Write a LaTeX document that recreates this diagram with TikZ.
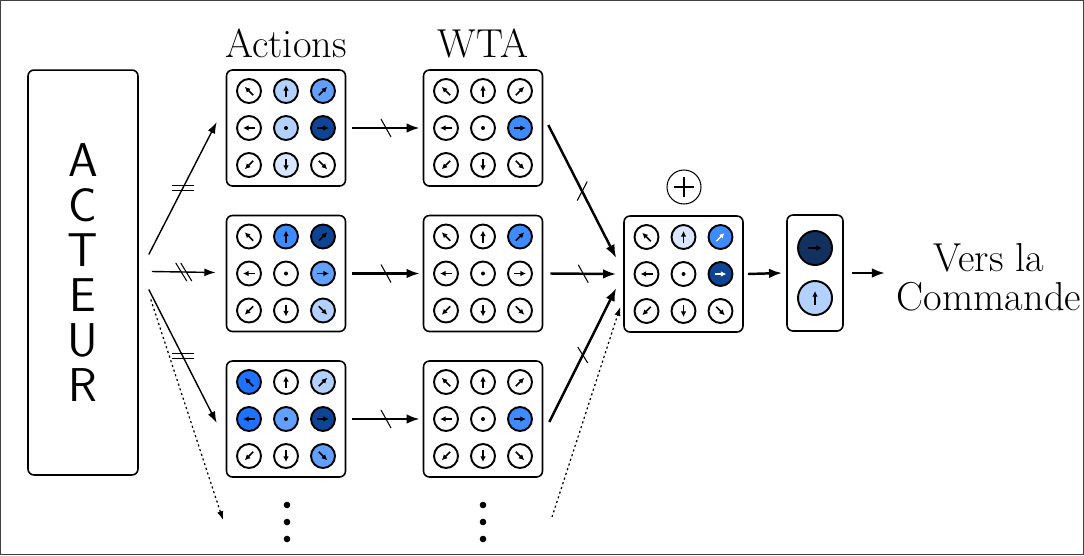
\documentclass[tikz,border=0pt]{standalone}
\usepackage{fontspec}
\usepackage{tikz}
\usetikzlibrary{arrows.meta}
\definecolor{bxl}{HTML}{D8E6FF}
\definecolor{bl}{HTML}{B3D1FF}
\definecolor{bm}{HTML}{62A0FF}
\definecolor{bb}{HTML}{3D8BFF}
\definecolor{bv}{HTML}{1E72FF}
\definecolor{bd}{HTML}{0E4494}
\definecolor{bn}{HTML}{12315F}

\begin{document}
\begin{tikzpicture}[x=0.02cm,y=-0.02cm,
  box/.style={draw,rounded corners=3.4pt,line width=0.9pt},
  grid/.style={box,minimum width=2.38cm,minimum height=2.32cm},
  cell/.style={draw,line width=1.1pt},
  dir/.style={line width=0.9pt,-{Latex[length=3.2pt,width=3.2pt]}},
  fleche/.style={line width=0.8pt,-{Latex[length=6.5pt,width=4.5pt]}},
  grosse/.style={line width=1.4pt,-{Latex[length=7.5pt,width=5.5pt]}},
  pointille/.style={line width=0.7pt,dash pattern=on 1.2pt off 1.6pt,-{Latex[length=5pt,width=3.5pt]}},
  barre/.style={line width=0.6pt},
  titre/.style={font=\fontsize{23}{22}\selectfont,anchor=base}]
  \useasboundingbox (0,0) rectangle (1084,555);
  \draw[black!75,line width=0.6pt] (0.5,0.5) rectangle (1083.5,554.5);
  % acteur
  \node[box,minimum width=2.2cm,minimum height=8.1cm,align=center,font=\sffamily\fontsize{27}{25.6}\selectfont] (acteur) at (83,272.5) {A\\C\\T\\E\\U\\R};
  % grilles
  \foreach \gname/\gx/\gy/\gfill in {act1/286/128/{white,bl,bm,white,bl,bd,white,bxl,white},
    act2/286/273.5/{white,bb,bd,white,white,bm,white,white,bl},
    act3/286/419/{bv,white,bl,bv,bm,bd,white,white,bm},
    wta1/483/128/{white,white,white,white,white,bb,white,white,white},
    wta2/483/273.5/{white,white,bb,white,white,white,white,white,white},
    wta3/483/419/{white,white,white,white,white,bb,white,white,white},
    somme/683.5/274/{white,bxl,bb,white,white,bd,white,white,white}}{
    \node[grid] (\gname) at (\gx,\gy) {};
    \foreach \f [count=\i from 0] in \gfill {
      \pgfmathtruncatemacro{\cc}{mod(\i,3)-1}
      \pgfmathtruncatemacro{\rr}{1-div(\i,3)}
      \begin{scope}[shift={(\gx+37*\cc,\gy-37*\rr)}]
        \draw[cell,fill=\f] (0,0) circle[radius=12];
        \ifnum\i=4 \fill (0,0) circle[radius=2];
        \else \pgfmathsetmacro{\ang}{atan2(\rr,\cc)}
          \draw[dir,rotate=\ang] (-6,0) -- (6,0);
        \fi
      \end{scope}
    }
  }
  \foreach \px/\py/\ang in {720.5/237/45,720.5/274/0}
    \draw[dir,white,shift={(\px,\py)},rotate=\ang] (-6,0) -- (6,0);
  \node[titre] (tact) at (286,57) {Actions};
  \node[titre] (twta) at (483,57) {WTA};
  % somme et sortie
  \node[draw,circle,minimum size=0.68cm,inner sep=0pt,line width=0.6pt] (plus) at (684,187) {};
  \draw[line width=1.4pt] ([xshift=-0.2cm]plus.center) -- ([xshift=0.2cm]plus.center)
    ([yshift=-0.2cm]plus.center) -- ([yshift=0.2cm]plus.center);
  \node[box,minimum width=1.12cm,minimum height=2.32cm] (sortie) at (815,273) {};
  \draw[cell,fill=bn] (815,248) circle[radius=17];
  \draw[cell,fill=bl] (815,298) circle[radius=17];
  \draw[dir] (808,248) -- (822,248);
  \draw[dir] (815,305) -- (815,291);
  \node[font=\fontsize{23}{22}\selectfont,align=center] (cmd) at (989,277) {Vers la\\Commande};
  % acteur -> actions
  \draw[fleche] ([shift={(10,-18)}]acteur.east) -- coordinate (m1) ([shift={(-9,-6)}]act1.west);
  \draw[fleche] ([shift={(13,-1)}]acteur.east) -- coordinate (m2) ([shift={(-10,-1)}]act2.west);
  \draw[fleche] ([shift={(10,17)}]acteur.east) -- coordinate (m3) ([shift={(-9,4)}]act3.west);
  \coordinate (d1) at (223,520);
  \draw[pointille] ([shift={(12,27)}]acteur.east) -- (d1);
  \draw[barre] ([shift={(-11,-2.5)}]m1) -- ++(22,0) ([shift={(-11,2.5)}]m1) -- ++(22,0);
  \draw[barre] ([shift={(-11,-2.5)}]m3) -- ++(22,0) ([shift={(-11,2.5)}]m3) -- ++(22,0);
  \draw[barre] ([shift={(-8,-9)}]m2) -- ++(11,18) ([shift={(-3,-9)}]m2) -- ++(11,18);
  % actions -> wta
  \foreach \k in {1,2,3}{
    \draw[grosse] ([shift={(6,0)}]act\k.east) -- coordinate (t\k) ([shift={(-3,0)}]wta\k.west);
    \draw[barre] ([shift={(-5,-9)}]t\k) -- ++(10,18);
  }
  % wta -> somme
  \draw[grosse] ([shift={(5,-3)}]wta1.east) -- coordinate (s1) ([shift={(-7,-16)}]somme.west);
  \draw[grosse] ([shift={(7,0)}]wta2.east) -- coordinate (s2) ([shift={(-7,0)}]somme.west);
  \draw[grosse] ([shift={(6,3)}]wta3.east) -- coordinate (s3) ([shift={(-7,14)}]somme.west);
  \draw[barre] ([shift={(-5,9)}]s1) -- ++(10,-19);
  \draw[barre] ([shift={(-5,-9)}]s2) -- ++(10,18);
  \draw[barre] ([shift={(-5,-8)}]s3) -- ++(10,16);
  \coordinate (d2) at (552,517);
  \draw[pointille] (d2) -- ([shift={(-3,33)}]somme.west);
  % somme -> sortie -> commande
  \coordinate (fin) at (885,273);
  \draw[grosse] ([shift={(4,0)}]somme.east) -- ([shift={(-4,0)}]sortie.west);
  \draw[grosse] ([shift={(8,0)}]sortie.east) -- (fin);
  % points de suite
  \foreach \xx in {287,483}
    \foreach \yy in {505,522,539}
      \fill (\xx,\yy) circle[radius=3.3];
\end{tikzpicture}
\end{document}
